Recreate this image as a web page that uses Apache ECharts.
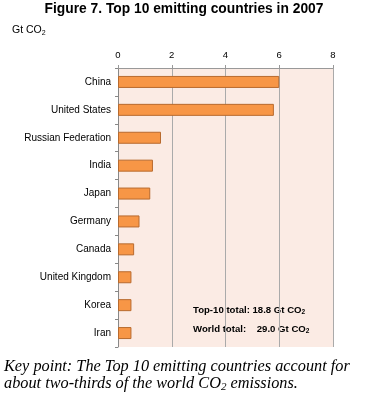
<!DOCTYPE html>
<html><head><meta charset="utf-8">
<script src="https://cdn.jsdelivr.net/npm/echarts@6/dist/echarts.min.js"></script>
<style>html,body{margin:0;padding:0;background:#fff}#c{width:368px;height:401px}</style>
</head><body><div id="c"></div>
<script>
const categories = ["China","United States","Russian Federation","India","Japan","Germany","Canada","United Kingdom","Korea","Iran"];
const emissions = [6.0, 5.8, 1.6, 1.3, 1.2, 0.8, 0.6, 0.5, 0.5, 0.5];
const xTicks = [0, 2, 4, 6, 8];

const chart = echarts.init(document.getElementById('c'), null, {renderer:'canvas'});
const serif = '"Liberation Serif", "Times New Roman", serif';
chart.setOption({
  animation:false,
  graphic:[
    {type:'text', left:'center', top:2, style:{text:'Figure 7. Top 10 emitting countries in 2007', font:'bold 13.8px Arial, "Liberation Sans", sans-serif', fill:'#000'}},
    {type:'text', left:12, top:25, style:{rich:{a:{fontSize:10.5,fontFamily:'Arial',color:'#000'},s:{fontSize:7,fontFamily:'Arial',color:'#000',padding:[5,0,0,0]}}, text:'{a|Gt CO}{s|2}'}},
    {type:'text', left:193, top:305, style:{rich:{a:{fontSize:9.6,fontWeight:'bold',fontFamily:'Arial',color:'#000'},s:{fontSize:6.5,fontWeight:'bold',fontFamily:'Arial',color:'#000',padding:[4,0,0,0]}}, text:'{a|Top-10 total: 18.8 Gt CO}{s|2}'}},
    {type:'text', left:193, top:324, style:{rich:{a:{fontSize:9.6,fontWeight:'bold',fontFamily:'Arial',color:'#000'},s:{fontSize:6.5,fontWeight:'bold',fontFamily:'Arial',color:'#000',padding:[4,0,0,0]}}, text:'{a|World total:    29.0 Gt CO}{s|2}'}},
    {type:'text', left:4, top:359, style:{rich:{a:{fontSize:16.3,fontStyle:'italic',fontFamily:serif,color:'#000'}}, text:'{a|Key point: The Top 10 emitting countries account for}'}},
    {type:'text', left:4, top:376, style:{rich:{a:{fontSize:16.3,fontStyle:'italic',fontFamily:serif,color:'#000'},s:{fontSize:11,fontStyle:'italic',fontFamily:serif,color:'#000',padding:[7,0,0,0]}}, text:'{a|about two-thirds of the world CO}{s|2}{a| emissions.}'}}
  ],
  grid:{left:118, right:35, top:68, bottom:54, show:true, backgroundColor:'#FBEBE4', borderWidth:0},
  xAxis:{type:'value', position:'top', min:xTicks[0], max:xTicks[xTicks.length-1], interval:2,
    axisLine:{show:true, lineStyle:{color:'#999'}},
    axisTick:{show:true, length:3, lineStyle:{color:'#999'}},
    axisLabel:{fontSize:9.5, fontFamily:'Arial', color:'#000', margin:8},
    splitLine:{show:true, lineStyle:{color:'#aaa', width:1}}},
  yAxis:{type:'category', inverse:true, data:categories,
    axisLine:{show:true, lineStyle:{color:'#888'}},
    axisTick:{show:true, length:3, lineStyle:{color:'#888'}},
    axisLabel:{fontSize:10, fontFamily:'Arial', color:'#000', margin:7}},
  series:[{type:'bar', data:emissions, barWidth:12,
    itemStyle:{color:'#F79646', borderColor:'#B86A2E', borderWidth:1}}]
});
</script></body></html>
